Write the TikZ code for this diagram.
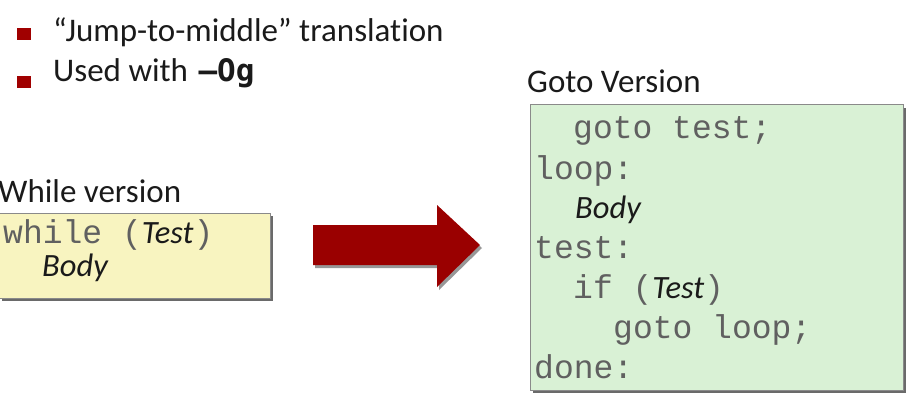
\documentclass[tikz,border=0pt]{standalone}
\usepackage{fontspec}
\setmainfont{Carlito}[Ligatures={TeX,NoCommon}]
\newfontfamily\codefont{Liberation Mono}
\newfontfamily\optfont{DejaVu Sans Mono}
\definecolor{bulletred}{HTML}{A00000}
\definecolor{arrowred}{HTML}{9A0000}
\definecolor{codegray}{HTML}{606060}
\definecolor{inkblack}{HTML}{1A1A1A}
\definecolor{gotofill}{HTML}{D9F1D5}
\definecolor{whilefill}{HTML}{F8F4C0}
\definecolor{boxline}{HTML}{8A8A8A}
\definecolor{shadowgray}{HTML}{6A6A6A}
% italic placeholder words inside code lines
\newcommand\codeit[1]{{\rmfamily\itshape\fontsize{32.5}{40}\selectfont\color{inkblack}#1}}
\begin{document}
\begin{tikzpicture}[x=1pt,y=-1pt,
  sanslabel/.style={anchor=base west, inner sep=0pt, text=inkblack,
    font=\fontsize{33}{40}\selectfont},
  codeline/.style={anchor=base west, inner sep=0pt, text=codegray,
    font=\codefont\fontsize{33}{40}\selectfont},
  codebox/.style={draw=boxline, line width=1pt},
  boxshadow/.style={fill=shadowgray, draw=none}]
\useasboundingbox (0,0) rectangle (909,414);

% bullet points
\fill[bulletred] (17,28) rectangle (31,40);
\node[sanslabel] (b1) at (53,42) {“Jump-to-middle” translation};
\fill[bulletred] (17,76) rectangle (31,88);
\node[sanslabel] (b2) at (53,82) {Used with\hspace{3pt} {\optfont\bfseries\fontsize{31}{40}\selectfont –Og}};

% while version box
\node[sanslabel] (whilettl) at (-2,202) {While version};
\fill[boxshadow] (2,216) rectangle (273,301);
\filldraw[codebox, fill=whilefill] (-1,213) rectangle (270,298);
\node[codeline] (w1) at (3,243) {while (\codeit{Test})};
\node[codeline] (w2) at (42,276) {\codeit{Body}};

% block arrow
\fill[shadowgray!70] (315,228) -- (439,228) -- (439,208) -- (482,248)
  -- (439,290) -- (439,268) -- (315,268) -- cycle;
\fill[arrowred] (313,225) -- (437,225) -- (437,205) -- (480,245)
  -- (437,287) -- (437,265) -- (313,265) -- cycle;

% goto version box
\node[sanslabel] (gotottl) at (527,93) {Goto Version};
\fill[boxshadow] (533,108) rectangle (906,393);
\filldraw[codebox, fill=gotofill] (530,105) rectangle (903,390);
\node[codeline] (g1) at (573,139) {goto test;};
\node[codeline] (g2) at (534,179) {loop:};
\node[codeline] (g3) at (575,218) {\codeit{Body}};
\node[codeline] (g4) at (534,258) {test:};
\node[codeline] (g5) at (573,298) {if (\codeit{Test})};
\node[codeline] (g6) at (613,338) {goto loop;};
\node[codeline] (g7) at (534,378) {done:};
\end{tikzpicture}
\end{document}
